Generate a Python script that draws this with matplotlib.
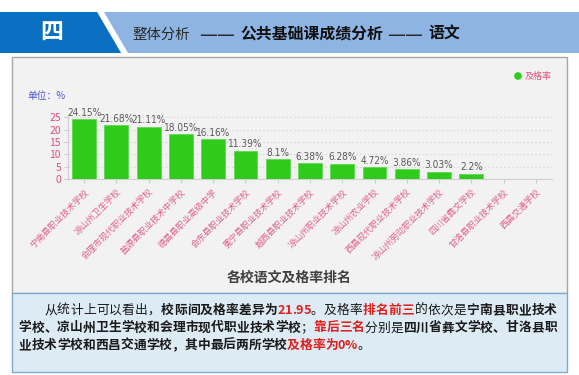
import matplotlib
matplotlib.use("Agg")
import matplotlib.pyplot as plt
from matplotlib.patches import Rectangle, Polygon, Circle
from matplotlib import font_manager

plt.rcParams['font.family'] = ['Noto Sans CJK SC', 'DejaVu Sans']

schools = ["宁南县职业技术学校", "凉山州卫生学校", "会理市现代职业技术学校", "盐源县职业技术中学校",
           "德昌县职业高级中学", "会东县职业技术学校", "冕宁县职业技术学校", "越西县职业技术学校",
           "凉山州职业技术学校", "凉山州农业学校", "西昌现代职业技术学校", "凉山州劳动职业技术学校",
           "四川省彝文学校", "甘洛县职业技术学校", "西昌交通学校"]
pass_rate = [24.15, 21.68, 21.11, 18.05, 16.16, 11.39, 8.1, 6.38, 6.28, 4.72, 3.86, 3.03, 2.2, 0, 0]
rate_labels = ["24.15%", "21.68%", "21.11%", "18.05%", "16.16%", "11.39%", "8.1%", "6.38%",
               "6.28%", "4.72%", "3.86%", "3.03%", "2.2%", "", ""]
y_ticks = [0, 5, 10, 15, 20, 25]
header_parts = ["整体分析", "——", "公共基础课成绩分析", "——", "语文"]
chart_title = "各校语文及格率排名"
legend_label = "及格率"
unit_label = "单位：%"

RED = "#e0201b"
BLK = "#1a1a1a"
para_lines = [
    [("从统计上可以看出，", BLK, "normal"), ("校际间及格率差异为", BLK, "bold"), ("21.95", RED, "bold"),
     ("。及格率", BLK, "normal"), ("排名前三", RED, "bold"), ("的依次是", BLK, "normal"),
     ("宁南县职业技术", BLK, "bold")],
    [("学校、凉山州卫生学校和会理市现代职业技术学校", BLK, "bold"), ("；", BLK, "normal"),
     ("靠后三名", RED, "bold"), ("分别是", BLK, "normal"), ("四川省彝文学校、甘洛县职", BLK, "bold")],
    [("业技术学校和西昌交通学校，其中最后两所学校", BLK, "bold"), ("及格率为0%", RED, "bold"),
     ("。", BLK, "normal")],
]

# pick a narrow font for the value labels if one is installed
fl = font_manager.fontManager.ttflist
names = {f.name for f in fl}
cond = any(f.name == "DejaVu Sans" and str(f.stretch) in ("condensed", "semi-condensed", "600", "700", "ultra-condensed", "extra-condensed")
           for f in fl)
if "Liberation Sans Narrow" in names:
    LBL = dict(family=["Liberation Sans Narrow", "DejaVu Sans"], fontsize=7.4)
elif cond:
    LBL = dict(family=["DejaVu Sans"], fontstretch="condensed", fontsize=7.2)
else:
    LBL = dict(family=["Liberation Sans", "DejaVu Sans"], fontsize=6.7)

W, H = 579, 375
fig = plt.figure(figsize=(W / 100, H / 100), dpi=100)
fig.patch.set_facecolor("white")

bg = fig.add_axes([0, 0, 1, 1])
bg.set_xlim(0, W)
bg.set_ylim(H, 0)
bg.axis("off")

# header band
bg.add_patch(Rectangle((0, 12), W, 41, facecolor="#8db4e2", edgecolor="none"))
bg.add_patch(Polygon([(97, 12), (104, 12), (128, 53), (121, 53)], closed=True, facecolor="white", edgecolor="none"))
bg.add_patch(Polygon([(0, 12), (97, 12), (121, 53), (0, 53)], closed=True, facecolor="#0a6fc0", edgecolor="none"))
bg.text(52, 33, "四", color="white", fontsize=16.5, fontweight="bold", ha="center", va="center")

# header title pieces
hx = [132, 217, 240, 405, 428]
hstyle = [("normal", 10.4, "#2a2a2a", "left"), ("normal", 14.5, "#2a2a2a", "center"),
          ("bold", 11.4, "#111111", "left"), ("normal", 14.5, "#2a2a2a", "center"),
          ("bold", 11.4, "#111111", "left")]
hy = [39, 40.5, 39, 40.5, 39]
for part, xx, yy, (wt, fs, col, ha) in zip(header_parts, hx, hy, hstyle):
    bg.text(xx, yy, part, color=col, fontsize=fs, fontweight=wt, ha=ha, va="baseline")

# chart panel
bg.add_patch(Rectangle((12, 57), 555, 236, facecolor="#f2f2f2", edgecolor="#a6a6a6", linewidth=1))
# text box
bg.add_patch(Rectangle((12, 293), 555, 79, facecolor="#ddebf5", edgecolor="#7fa9cf", linewidth=1))

bg.text(27, 96, unit_label, color="#4a58d0", fontsize=7, ha="left", va="center")
bg.add_patch(Circle((518, 76), 3.8, facecolor="#2ecb1b", edgecolor="none"))
bg.text(525, 76, legend_label, color="#e0507a", fontsize=6.5, ha="left", va="center")
bg.text(289, 278, chart_title, color="#404040", fontsize=10, fontweight="bold", ha="center", va="center")

# paragraph, character by character with justified spacing
FS = 9.2
EM = FS / 0.72
def char_w(c):
    if c.isdigit():
        return 0.56
    if c == ".":
        return 0.28
    if c == "%":
        return 0.95
    return 1.0

line_base = [314, 331.5, 349]
line_x = [44, 18.5, 18.5]
justify = [True, True, False]
right_edge = 557
for segs, yb, x0, jus in zip(para_lines, line_base, line_x, justify):
    chars = [(c, col, wt) for txt, col, wt in segs for c in txt]
    widths = [char_w(c) * EM for c, _, _ in chars]
    natural = sum(widths)
    extra = (right_edge - x0 - natural) / (len(chars) - 1) if jus else 0.0
    xx = x0
    for (c, col, wt), w in zip(chars, widths):
        bg.text(xx, yb, c, color=col, fontweight=wt, fontsize=FS, ha="left", va="baseline")
        xx += w + extra

# bar chart
ax_h = 25.5 * 2.468 / H
ax = fig.add_axes([68 / W, (H - 179) / H, (552 - 68) / W, ax_h])
ax.set_facecolor("none")
x = list(range(len(schools)))
ax.bar(x, pass_rate, width=0.74, color="#2ecb1b", edgecolor="#5ad64a", linewidth=0.5, zorder=3)
for xi, v, lab in zip(x, pass_rate, rate_labels):
    if lab:
        ax.text(xi, v + 0.6, lab, ha="center", va="bottom", color="#5a5a5a", **LBL)
ax.set_xlim(-0.5, len(schools) - 0.5)
ax.set_ylim(0, 25.5)
ax.set_yticks(y_ticks)
ax.set_yticklabels([str(v) for v in y_ticks], color="#e0507a", fontsize=7.5)
ax.set_xticks(x)
ax.set_xticklabels(schools, rotation=45, ha="right", rotation_mode="anchor",
                   color="#e0608a", fontsize=6.3)
ax.tick_params(axis="x", length=3, color="#cccccc", pad=3)
ax.tick_params(axis="y", length=3, color="#cccccc", pad=2)
for s in ["top", "right"]:
    ax.spines[s].set_visible(False)
for s in ["left", "bottom"]:
    ax.spines[s].set_color("#d0d0d0")
ax.yaxis.grid(True, linestyle=(0, (1.5, 2)), color="#d8d8d8", linewidth=0.8, zorder=0)
ax.set_axisbelow(True)

fig.savefig("out.png", dpi=100, facecolor="white")
